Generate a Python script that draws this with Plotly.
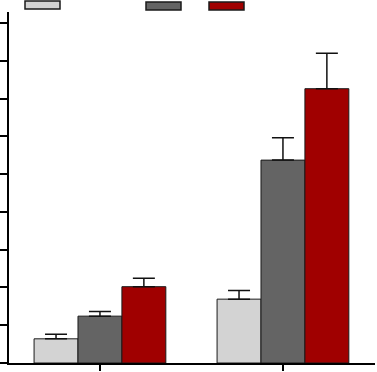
import plotly.graph_objects as go

groups = ["A", "B"]
series_names = ["Series 1", "Series 2", "Series 3"]
values_1 = [0.64, 1.69]
values_2 = [1.24, 5.37]
values_3 = [2.02, 7.26]
errors_1 = [0.12, 0.23]
errors_2 = [0.12, 0.59]
errors_3 = [0.22, 0.94]
colors = ["#d3d3d3", "#646464", "#a00000"]

fig = go.Figure()
for name, vals, errs, col in zip(series_names, [values_1, values_2, values_3],
                                 [errors_1, errors_2, errors_3], colors):
    fig.add_trace(go.Bar(
        x=groups, y=vals, name=name,
        marker=dict(color=col, line=dict(color="#1a1a1a", width=1)),
        error_y=dict(type="data", symmetric=False, array=errs,
                     arrayminus=[0] * len(errs), color="#111111",
                     thickness=1.5, width=11),
        showlegend=False,
    ))

# legend swatches (no text in reference)
legend_boxes = [(25, 60, 1, 9), (146, 181, 2, 10), (209, 244, 2, 10)]
W, H = 377, 372
ml, mr, mt, mb = 9, 2, 12, 9
pw, ph = W - ml - mr, H - mt - mb
for (x0, x1, y0, y1), col in zip(legend_boxes, colors):
    fig.add_shape(type="rect", xref="paper", yref="paper",
                  x0=(x0 - ml) / pw, x1=(x1 - ml) / pw,
                  y0=(H - mb - y1) / ph, y1=(H - mb - y0) / ph,
                  fillcolor=col, line=dict(color="#1a1a1a", width=1.5))

# extend x axis line to the left edge
fig.add_shape(type="line", xref="paper", yref="paper",
              x0=-ml / pw, x1=0, y0=0, y1=0,
              line=dict(color="black", width=2))

fig.update_layout(
    width=W, height=H,
    margin=dict(l=ml, r=mr, t=mt, b=mb),
    paper_bgcolor="white", plot_bgcolor="white",
    barmode="group", bargap=0.28, bargroupgap=0,
    hovermode=False,
    xaxis=dict(type="category", range=[-0.497, 1.503], showline=True,
               linecolor="black", linewidth=2, ticks="outside", ticklen=6,
               tickwidth=2, tickcolor="black", showticklabels=False,
               showgrid=False, zeroline=False),
    yaxis=dict(range=[0, 9.29], showline=True, linecolor="black", linewidth=1.5,
               ticks="outside", ticklen=7, tickwidth=1.5, tickcolor="black",
               dtick=1, tick0=0, showticklabels=False, showgrid=False,
               zeroline=False),
)

fig.write_html("out.html", config={"displayModeBar": False},
               post_script="document.body.style.margin='0';document.body.style.overflow='hidden';")
